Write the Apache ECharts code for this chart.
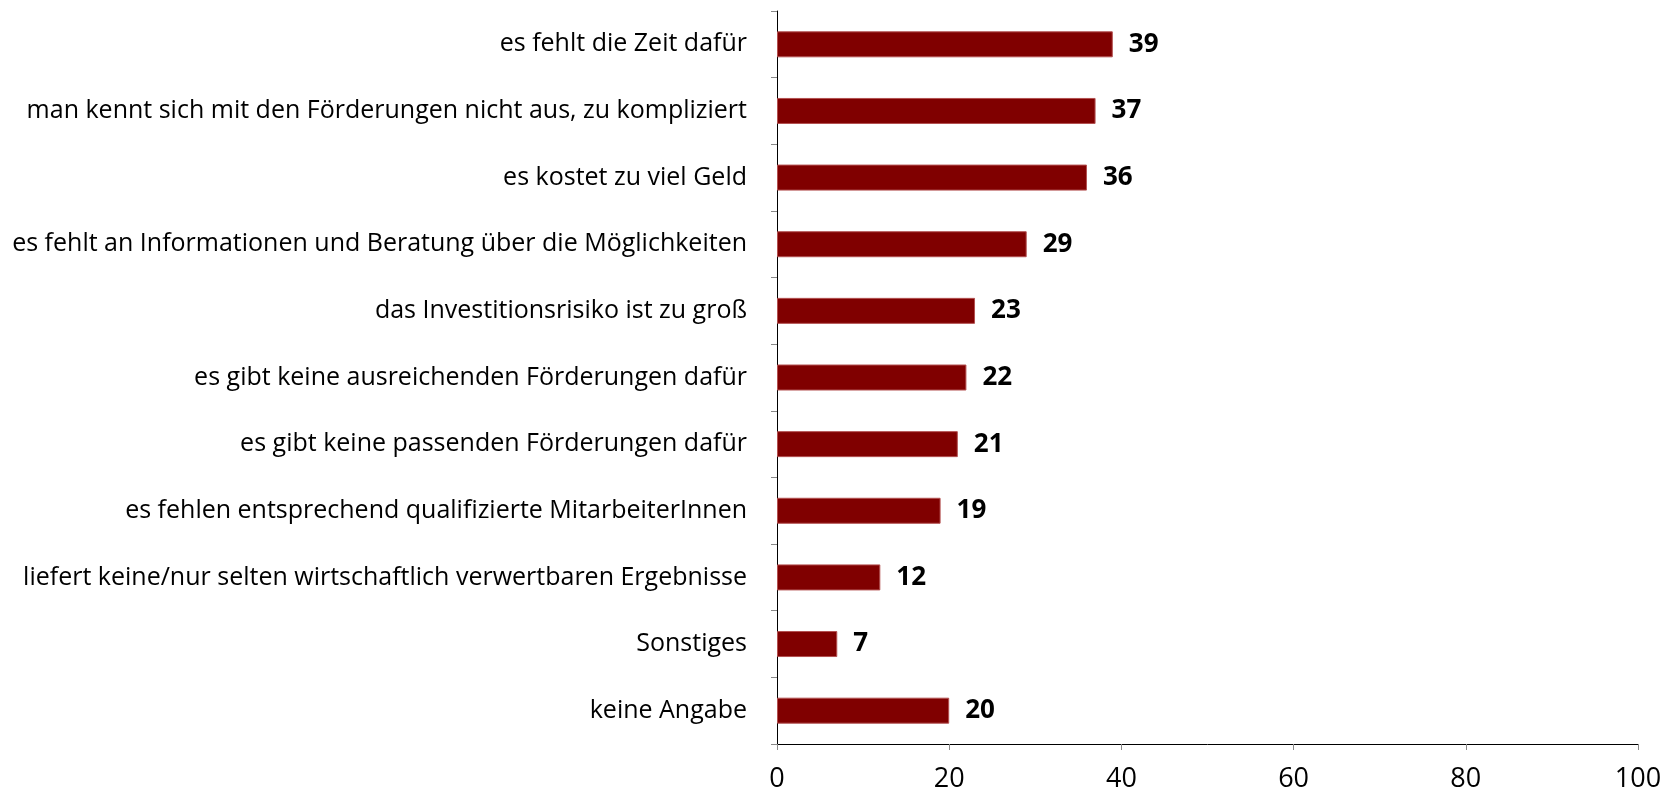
<!DOCTYPE html>
<html>
<head>
<meta charset="utf-8">
<script src="https://cdn.jsdelivr.net/npm/echarts@6/dist/echarts.min.js"></script>
<style>
  html, body { margin: 0; padding: 0; background: #fff; }
  #chart { width: 1671px; height: 793px; }
</style>
</head>
<body>
<div id="chart"></div>
<script>
// Kategorien von oben nach unten
const categories = [
  'es fehlt die Zeit dafür',
  'man kennt sich mit den Förderungen nicht aus, zu kompliziert',
  'es kostet zu viel Geld',
  'es fehlt an Informationen und Beratung über die Möglichkeiten',
  'das Investitionsrisiko ist zu groß',
  'es gibt keine ausreichenden Förderungen dafür',
  'es gibt keine passenden Förderungen dafür',
  'es fehlen entsprechend qualifizierte MitarbeiterInnen',
  'liefert keine/nur selten wirtschaftlich verwertbaren Ergebnisse',
  'Sonstiges',
  'keine Angabe'
];
const values = [39, 37, 36, 29, 23, 22, 21, 19, 12, 7, 20];
const xTicks = [0, 20, 40, 60, 80, 100];

const chart = echarts.init(document.getElementById('chart'), null, {renderer: 'canvas'});

const option = {
  animation: false,
  textStyle: {fontFamily: 'Open Sans'},
  grid: {left: 777, right: 33, top: 11, bottom: 49, containLabel: false},
  xAxis: {
    type: 'value',
    min: xTicks[0],
    max: xTicks[xTicks.length - 1],
    interval: 20,
    splitLine: {show: false},
    axisLine: {show: true, lineStyle: {color: '#000', width: 1}},
    axisTick: {show: true, length: 6, lineStyle: {color: '#888'}},
    axisLabel: {color: '#000', fontSize: 27, margin: 22, fontFamily: 'Open Sans'}
  },
  yAxis: {
    type: 'category',
    inverse: true,
    data: categories,
    axisLine: {show: true, lineStyle: {color: '#000', width: 1}},
    axisTick: {show: true, length: 6, alignWithLabel: false, lineStyle: {color: '#888'}},
    axisLabel: {color: '#000', fontSize: 25, margin: 30, fontFamily: 'Open Sans'}
  },
  series: [{
    type: 'bar',
    data: values,
    barWidth: 26,
    itemStyle: {color: '#800000', borderColor: '#b35050', borderWidth: 1},
    label: {
      show: true,
      position: 'right',
      distance: 16,
      color: '#000',
      fontWeight: 'bold',
      fontSize: 26,
      fontFamily: 'Open Sans'
    }
  }]
};

chart.setOption(option);
</script>
</body>
</html>
